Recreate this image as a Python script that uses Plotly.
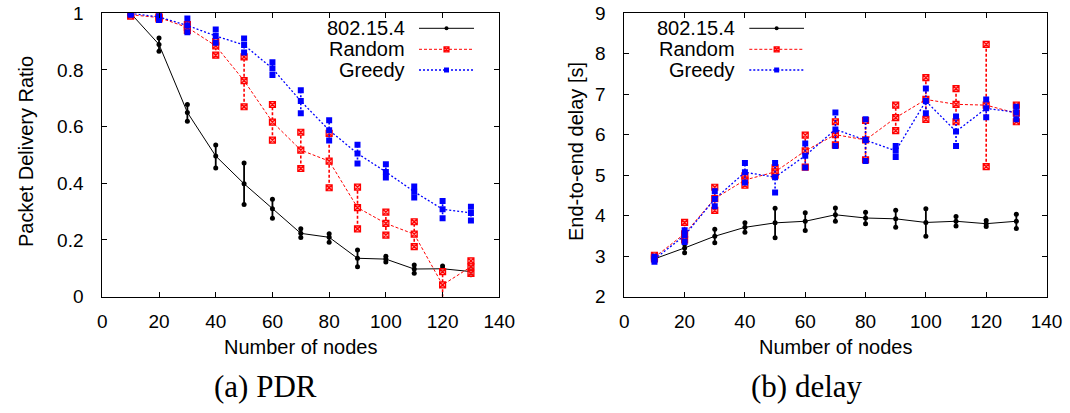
import plotly.graph_objects as go

W, H = 1070, 413

nodes = [10, 20, 30, 40, 50, 60, 70, 80, 90, 100, 110, 120, 130]
x_ticks = [0, 20, 40, 60, 80, 100, 120, 140]
pdr_ticks = [0, 0.2, 0.4, 0.6, 0.8, 1]
delay_ticks = [2, 3, 4, 5, 6, 7, 8, 9]
series_names = ["802.15.4", "Random", "Greedy"]

# PDR (mean, low, high)
pdr_std_mean = [1.0, 0.89, 0.65, 0.496, 0.398, 0.31, 0.223, 0.209, 0.135, 0.132, 0.097, 0.098, 0.088]
pdr_std_lo = [0.995, 0.866, 0.619, 0.454, 0.325, 0.276, 0.208, 0.192, 0.105, 0.122, 0.082, 0.094, 0.077]
pdr_std_hi = [1.0, 0.913, 0.678, 0.535, 0.471, 0.343, 0.239, 0.222, 0.164, 0.142, 0.111, 0.108, 0.102]

pdr_rnd_mean = [0.995, 0.985, 0.95, 0.885, 0.762, 0.616, 0.517, 0.478, 0.314, 0.258, 0.220, 0.041, 0.105]
pdr_rnd_lo = [0.99, 0.98, 0.94, 0.852, 0.67, 0.552, 0.452, 0.384, 0.239, 0.217, 0.176, -0.02, 0.082]
pdr_rnd_hi = [1.0, 0.99, 0.96, 0.90, 0.846, 0.678, 0.580, 0.576, 0.386, 0.298, 0.264, 0.088, 0.126]

pdr_grd_mean = [1.0, 0.987, 0.957, 0.92, 0.888, 0.805, 0.690, 0.587, 0.505, 0.44, 0.37, 0.308, 0.295]
pdr_grd_lo = [0.995, 0.976, 0.933, 0.896, 0.862, 0.782, 0.647, 0.551, 0.47, 0.42, 0.35, 0.276, 0.268]
pdr_grd_hi = [1.0, 0.997, 0.982, 0.943, 0.911, 0.827, 0.728, 0.622, 0.536, 0.467, 0.388, 0.337, 0.317]

# Delay (mean, low, high)
dly_std_mean = [2.93, 3.2, 3.49, 3.71, 3.82, 3.86, 4.02, 3.94, 3.92, 3.83, 3.86, 3.8, 3.86]
dly_std_lo = [2.88, 3.08, 3.33, 3.59, 3.45, 3.63, 3.86, 3.80, 3.71, 3.49, 3.74, 3.73, 3.68]
dly_std_hi = [2.98, 3.30, 3.66, 3.82, 4.18, 4.07, 4.19, 4.08, 4.13, 4.17, 3.98, 3.88, 4.03]

dly_rnd_mean = [2.97, 3.55, 4.42, 4.88, 5.08, 5.6, 6.0, 5.87, 6.42, 6.87, 6.75, 6.73, 6.53]
dly_rnd_lo = [2.93, 3.4, 4.13, 4.75, 5.0, 5.2, 5.75, 5.38, 6.10, 6.38, 6.32, 5.21, 6.32]
dly_rnd_hi = [3.02, 3.83, 4.70, 4.98, 5.18, 5.99, 6.32, 6.35, 6.73, 7.41, 7.14, 8.23, 6.73]

dly_grd_mean = [2.92, 3.51, 4.41, 5.07, 4.95, 5.48, 6.13, 5.87, 5.6, 6.83, 6.08, 6.65, 6.55]
dly_grd_lo = [2.86, 3.35, 4.23, 4.82, 4.57, 5.19, 5.72, 5.35, 5.45, 6.53, 5.72, 6.43, 6.38]
dly_grd_hi = [2.98, 3.64, 4.60, 5.30, 5.30, 5.78, 6.55, 6.38, 5.72, 7.14, 6.45, 6.87, 6.69]

FONT = "Liberation Sans, Arial, Helvetica, sans-serif"
SERIF = "Liberation Serif, Times New Roman, serif"

styles = [
    dict(color="#000000", dash="solid", lw=1.0, ew=1.8,
         marker=dict(symbol="circle", size=5, color="#000000")),
    dict(color="#ff0000", dash="3px,2px", lw=1.0, ew=1.6,
         marker=dict(symbol="square-x", size=6, color="rgba(255,140,140,0.8)",
                     line=dict(color="#ff0000", width=1.2))),
    dict(color="#0000ff", dash="2px,2px", lw=1.3, ew=1.6,
         marker=dict(symbol="square", size=6, color="#0000ff")),
]

fig = go.Figure()


def add_series(xa, ya, mean, lo, hi, st):
    ex, ey = [], []
    for n, l, h in zip(nodes, lo, hi):
        ex += [n, n, None]
        ey += [l, h, None]
    fig.add_trace(go.Scatter(x=ex, y=ey, mode="lines+markers", xaxis=xa, yaxis=ya,
                             line=dict(color=st["color"], width=st["ew"], dash=st["dash"]),
                             marker=st["marker"], showlegend=False, hoverinfo="skip"))
    fig.add_trace(go.Scatter(x=nodes, y=mean, mode="lines+markers", xaxis=xa, yaxis=ya,
                             line=dict(color=st["color"], width=st["lw"], dash=st["dash"]),
                             marker=st["marker"], showlegend=False))


pdr_sets = [(pdr_std_mean, pdr_std_lo, pdr_std_hi),
            (pdr_rnd_mean, pdr_rnd_lo, pdr_rnd_hi),
            (pdr_grd_mean, pdr_grd_lo, pdr_grd_hi)]
dly_sets = [(dly_std_mean, dly_std_lo, dly_std_hi),
            (dly_rnd_mean, dly_rnd_lo, dly_rnd_hi),
            (dly_grd_mean, dly_grd_lo, dly_grd_hi)]

for st, (m, l, h) in zip(styles, pdr_sets):
    add_series("x", "y", m, l, h, st)
for st, (m, l, h) in zip(styles, dly_sets):
    add_series("x2", "y2", m, l, h, st)

# legend samples drawn on an overlay pixel axis
legend_rows = [28.3, 49.3, 70.0]
legend_blocks = [(406.7, 419.0, 474.0), (736.7, 749.3, 804.0)]
annotations = []
for (tx, l0, l1) in legend_blocks:
    for name, st, ry in zip(series_names, styles, legend_rows):
        fig.add_trace(go.Scatter(x=[l0, l1], y=[ry, ry], mode="lines", xaxis="x3", yaxis="y3",
                                 line=dict(color=st["color"], width=st["lw"], dash=st["dash"]),
                                 showlegend=False, hoverinfo="skip"))
        mk = dict(st["marker"])
        mk["size"] = max(mk["size"] - 1, 4)
        fig.add_trace(go.Scatter(x=[(l0 + l1) / 2], y=[ry], mode="markers", xaxis="x3", yaxis="y3",
                                 marker=mk, showlegend=False, hoverinfo="skip"))
        annotations.append(dict(x=tx / W, y=1 - ry / H, xref="paper", yref="paper",
                                text=name, showarrow=False, xanchor="right", yanchor="middle",
                                font=dict(family=FONT, size=20, color="black")))


def px(x):
    return x / W


def py(y):
    return 1 - y / H


texts = [
    ("Packet Delivery Ratio", 26, 152, -90, FONT, 20),
    ("End-to-end delay [s]", 576, 152, -90, FONT, 20),
    ("Number of nodes", 300.8, 347, 0, FONT, 20),
    ("Number of nodes", 835.4, 347, 0, FONT, 20),
    ("(a) PDR", 265.5, 386, 0, SERIF, 31),
    ("(b) delay", 807, 386, 0, SERIF, 31),
]
for t, x, y, ang, fam, sz in texts:
    annotations.append(dict(x=px(x), y=py(y), xref="paper", yref="paper", text=t,
                            showarrow=False, textangle=ang, xanchor="center", yanchor="middle",
                            font=dict(family=fam, size=sz, color="black")))

axis_common = dict(showline=True, linecolor="#000000", linewidth=1, mirror="allticks",
                   ticks="inside", ticklen=5, tickcolor="#000000", tickwidth=1,
                   showgrid=False, zeroline=False, automargin=False,
                   tickfont=dict(family=FONT, size=19, color="black"))

ydom = [py(296.5), py(13.3)]
fig.update_layout(
    template="none",
    width=W, height=H, margin=dict(l=0, r=0, t=0, b=0, pad=0, autoexpand=False),
    paper_bgcolor="white", plot_bgcolor="rgba(0,0,0,0)", showlegend=False,
    xaxis=dict(domain=[px(102.3), px(499.3)], range=[0, 140], tickvals=x_ticks,
               anchor="y", ticklabelstandoff=8, **axis_common),
    yaxis=dict(domain=ydom, range=[0, 1], tickvals=pdr_ticks, anchor="x",
               ticklabelstandoff=14, **axis_common),
    xaxis2=dict(domain=[px(624.3), px(1046.5)], range=[0, 140], tickvals=x_ticks,
                anchor="y2", ticklabelstandoff=8, **axis_common),
    yaxis2=dict(domain=ydom, range=[2, 9], tickvals=delay_ticks, anchor="x2",
                ticklabelstandoff=14, **axis_common),
    xaxis3=dict(domain=[0, 1], range=[0, W], visible=False, anchor="y3", automargin=False),
    yaxis3=dict(domain=[0, 1], range=[H, 0], visible=False, anchor="x3", automargin=False),
    annotations=annotations,
)

fig.write_html("out.html")
